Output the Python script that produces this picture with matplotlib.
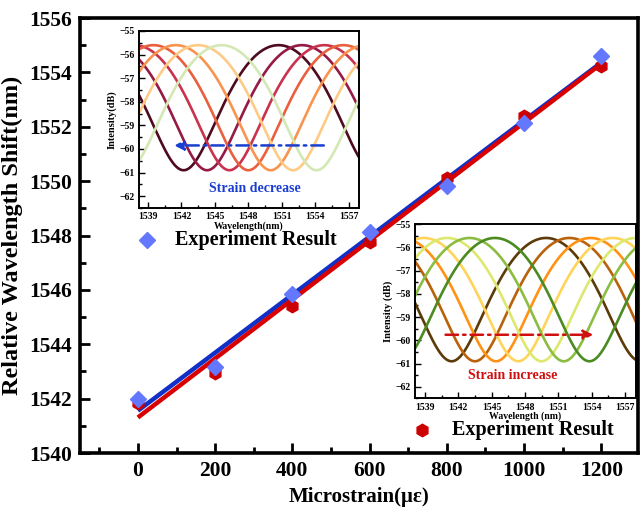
import numpy as np
import matplotlib
matplotlib.use('Agg')
import matplotlib.pyplot as plt
from matplotlib.ticker import MultipleLocator
from matplotlib.lines import Line2D

plt.rcParams['font.family'] = ['Liberation Serif', 'DejaVu Serif']
plt.rcParams['font.weight'] = 'bold'

# strain steps and measured dip wavelengths
microstrain = [0, 200, 400, 600, 800, 1000, 1200]
shift_blue = [1541.98, 1543.18, 1545.85, 1548.14, 1549.82, 1552.15, 1554.6]
shift_red = [1541.85, 1542.95, 1545.4, 1547.77, 1550.1, 1552.4, 1554.23]

# fringe dips of the two spectrum sets (nm)
dips_decrease = [1542.2, 1544.3, 1546.3, 1548.0, 1550.0, 1552.0, 1554.1]
colors_decrease = ['#4e0b20', '#951a45', '#c9334e', '#e9603f', '#f8944f', '#fdcb85', '#d3e8b4']
dips_increase = [1541.4, 1543.5, 1545.4, 1547.4, 1549.5, 1551.5, 1553.8]
colors_increase = ['#5c3b08', '#b9620b', '#ff9214', '#ffd45a', '#dce86e', '#8cbc42', '#4b8b22']

# fringe parameters: free spectral range, peak and dip levels (dB)
fsr = 17.0
peak_db = -55.6
dip_db = -60.9

W, H = 644, 509
fig = plt.figure(figsize=(W / 100, H / 100), dpi=100)
ax = fig.add_axes([0.1242, 0.1100, 0.8665, 0.8546])

ax.plot(microstrain, shift_red, linestyle='none', marker='h', markersize=9,
        color='#cc0000', zorder=3)
ax.plot(microstrain, shift_blue, linestyle='none', marker='D', markersize=8,
        color='#6478ff', zorder=4)

xs = np.array([0, 1200])
pb = np.polyfit(microstrain, shift_blue, 1)
pr = np.polyfit(microstrain, shift_red, 1)
ax.plot(xs, np.polyval(pb, xs), color='#1030c8', lw=3.2, solid_capstyle='butt', zorder=2)
ax.plot(xs, np.polyval(pr, xs), color='#d80000', lw=3.2, solid_capstyle='butt', zorder=2)

ax.set_xlim(-150, 1295)
ax.set_ylim(1540, 1556)
ax.xaxis.set_major_locator(MultipleLocator(200))
ax.xaxis.set_minor_locator(MultipleLocator(100))
ax.yaxis.set_major_locator(MultipleLocator(2))
ax.yaxis.set_minor_locator(MultipleLocator(1))
ax.tick_params(which='both', direction='in', width=2, labelsize=15.5, top=False, right=False)
ax.tick_params(which='major', length=7, pad=6)
ax.tick_params(which='minor', length=4)
for s in ax.spines.values():
    s.set_linewidth(2.6)
for lab in ax.get_xticklabels() + ax.get_yticklabels():
    lab.set_fontweight('bold')
ax.set_xlabel('Microstrain(με)', fontsize=15, fontweight='bold', labelpad=4)
ax.set_ylabel('Relative Wavelength Shift(nm)', fontsize=17.5, fontweight='bold', labelpad=4)

# legend entries, one per data set
fig.add_artist(Line2D([147 / W], [1 - 240 / H], transform=fig.transFigure, linestyle='none',
                      marker='D', markersize=8, color='#6478ff'))
fig.text(175 / W, 1 - 240 / H, 'Experiment Result', fontsize=14.5, fontweight='bold',
         va='center', ha='left')
fig.add_artist(Line2D([422 / W], [1 - 430 / H], transform=fig.transFigure, linestyle='none',
                      marker='h', markersize=9, color='#cc0000'))
fig.text(452 / W, 1 - 430 / H, 'Experiment Result', fontsize=14.5, fontweight='bold',
         va='center', ha='left')


def fringe(wl, dip):
    r = 10 ** ((dip_db - peak_db) / 10)
    v = (1 - r) / (1 + r)
    lin = (1 - v * np.cos(2 * np.pi * (wl - dip) / fsr)) / (1 + v)
    return peak_db + 10 * np.log10(lin)


def spectra_inset(rect, xlim, dips, colors, ylab, xlab, arrow, arrow_color, note):
    ins = fig.add_axes(rect)
    wl = np.linspace(xlim[0], xlim[1], 400)
    for d, c in zip(dips, colors):
        ins.plot(wl, fringe(wl, d), color=c, lw=1.9)
    ins.set_xlim(*xlim)
    ins.set_ylim(-62.5, -55)
    ins.set_xticks([1539, 1542, 1545, 1548, 1551, 1554, 1557])
    ins.xaxis.set_minor_locator(MultipleLocator(1.5))
    ins.yaxis.set_major_locator(MultipleLocator(1))
    ins.yaxis.set_minor_locator(MultipleLocator(0.5))
    ins.tick_params(which='both', direction='in', width=1, labelsize=7, top=False, right=False)
    ins.tick_params(which='major', length=4, pad=3)
    ins.tick_params(which='minor', length=2)
    for s in ins.spines.values():
        s.set_linewidth(1.4)
    for lab in ins.get_xticklabels() + ins.get_yticklabels():
        lab.set_fontweight('bold')
    ins.set_ylabel(ylab, fontsize=7.5, fontweight='bold', labelpad=2)
    ins.set_xlabel(xlab, fontsize=7, fontweight='bold', labelpad=0)
    (x0, x1), y = arrow
    ins.annotate('', xy=(x1, y), xytext=(x0, y),
                 arrowprops=dict(arrowstyle='-|>', color=arrow_color, lw=1.8,
                                 linestyle=(0, (5, 2, 1, 2)), mutation_scale=14))
    ins.text(note[0], note[1], note[2], color=arrow_color, fontsize=10,
             fontweight='bold', ha='center', va='center')
    return ins


spectra_inset([0.2158, 0.5914, 0.3416, 0.3477], (1538.2, 1557.9),
              dips_decrease, colors_decrease, 'Intensity(dB)', 'Wavelength(nm)',
              ((1555.0, 1541.1), -59.85), '#1a3fd0', (1548.6, -61.67, 'Strain decrease'))
spectra_inset([0.6444, 0.2171, 0.3432, 0.3428], (1538.1, 1558.0),
              dips_increase, colors_increase, 'Intensity (dB)', 'Wavelength (nm)',
              ((1540.6, 1554.4), -59.76), '#d01010', (1546.9, -61.52, 'Strain increase'))

fig.savefig('out.png', dpi=100)
